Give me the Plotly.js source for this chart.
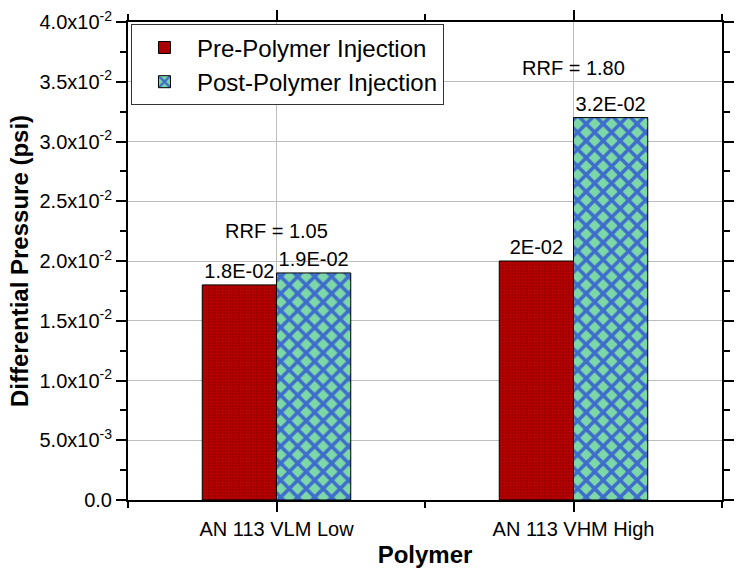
<!DOCTYPE html>
<html>
<head>
<meta charset="utf-8">
<script src="https://cdn.plot.ly/plotly-3.0.1.min.js"></script>
<style>html,body{margin:0;padding:0;background:#fff;}#chart{width:742px;height:569px;}</style>
</head>
<body>
<div id="chart"></div>
<script>
// ---- data ----
const categories = ["AN 113 VLM Low", "AN 113 VHM High"];
const seriesNames = ["Pre-Polymer Injection", "Post-Polymer Injection"];
const preValues = [0.018, 0.020];
const postValues = [0.019, 0.032];
const preLabels = ["1.8E-02", "2E-02"];
const postLabels = ["1.9E-02", "3.2E-02"];
const rrfLabels = ["RRF = 1.05", "RRF = 1.80"];
const yTickVals = [0, 0.005, 0.010, 0.015, 0.020, 0.025, 0.030, 0.035, 0.040];
const yTickText = ["0.0", "5.0x10<sup>-3</sup>", "1.0x10<sup>-2</sup>", "1.5x10<sup>-2</sup>",
  "2.0x10<sup>-2</sup>", "2.5x10<sup>-2</sup>", "3.0x10<sup>-2</sup>", "3.5x10<sup>-2</sup>", "4.0x10<sup>-2</sup>"];

const FONT = "Liberation Sans, Arial, sans-serif";
const xIdx = categories.map((c, i) => i);

const traces = [
  {
    type: "bar", name: seriesNames[0], x: xIdx, y: preValues,
    text: preLabels, textposition: "outside", constraintext: "none", cliponaxis: false,
    textfont: {family: FONT, size: 20, color: "#000"},
    marker: {color: "#a80000", line: {color: "#000", width: 1},
      pattern: {shape: "+", bgcolor: "#a00000", fgcolor: "#d80000", size: 3, solidity: 0.4, fillmode: "overlay"}}
  },
  {
    type: "bar", name: seriesNames[1], x: xIdx, y: postValues,
    text: postLabels, textposition: "outside", constraintext: "none", cliponaxis: false,
    textfont: {family: FONT, size: 20, color: "#000"},
    marker: {color: "#7dd8a8", line: {color: "#000", width: 1},
      pattern: {shape: "x", bgcolor: "#7dd8a8", fgcolor: "#0000f0", size: 12, solidity: 0.5, fillmode: "overlay"}}
  }
];

const rrfShift = [29, 37];
const annotations = rrfLabels.map((t, i) => ({
  x: xIdx[i], y: Math.max(preValues[i], postValues[i]), xref: "x", yref: "y",
  text: t, showarrow: false, yanchor: "bottom", yshift: rrfShift[i],
  font: {family: FONT, size: 20, color: "#000"}
}));

const layout = {
  width: 742, height: 569,
  margin: {l: 128, r: 20, t: 22, b: 69},
  paper_bgcolor: "#fff", plot_bgcolor: "#fff",
  font: {family: FONT, color: "#000"},
  barmode: "group", bargap: 0.5, bargroupgap: 0,
  showlegend: true,
  legend: {x: 0.005, y: 0.995, xanchor: "left", yanchor: "top",
    bgcolor: "#fff", bordercolor: "#333", borderwidth: 1,
    font: {family: FONT, size: 24, color: "#000"}, tracegroupgap: 0, itemwidth: 55},
  xaxis: {
    range: [-0.5, 1.5], tickvals: xIdx, ticktext: categories,
    tickfont: {family: FONT, size: 20, color: "#000"},
    showline: true, linecolor: "#000", linewidth: 2, mirror: "allticks",
    ticks: "outside", ticklen: 10, tickwidth: 2, tickcolor: "#000",
    showgrid: true, gridcolor: "#bdbdbd", gridwidth: 1, zeroline: false,
    minor: {dtick: 0.5, tick0: 0.5, ticklen: 6, tickwidth: 2, tickcolor: "#000", showgrid: false},
    title: {text: "<b>Polymer</b>", font: {family: FONT, size: 24, color: "#000"}, standoff: 7}
  },
  yaxis: {
    range: [0, 0.04], tickvals: yTickVals, ticktext: yTickText,
    tickfont: {family: FONT, size: 20, color: "#000"},
    showline: true, linecolor: "#000", linewidth: 2, mirror: "allticks",
    ticks: "outside", ticklen: 10, tickwidth: 2, tickcolor: "#000",
    showgrid: true, gridcolor: "#bdbdbd", gridwidth: 1, zeroline: false,
    minor: {dtick: 0.0025, ticklen: 6, tickwidth: 2, tickcolor: "#000", showgrid: false},
    title: {text: "<b>Differential Pressure (psi)</b>", font: {family: FONT, size: 24, color: "#000"}, standoff: 4}
  },
  annotations: annotations
};

Plotly.newPlot("chart", traces, layout, {displayModeBar: false, staticPlot: true});
</script>
</body>
</html>
